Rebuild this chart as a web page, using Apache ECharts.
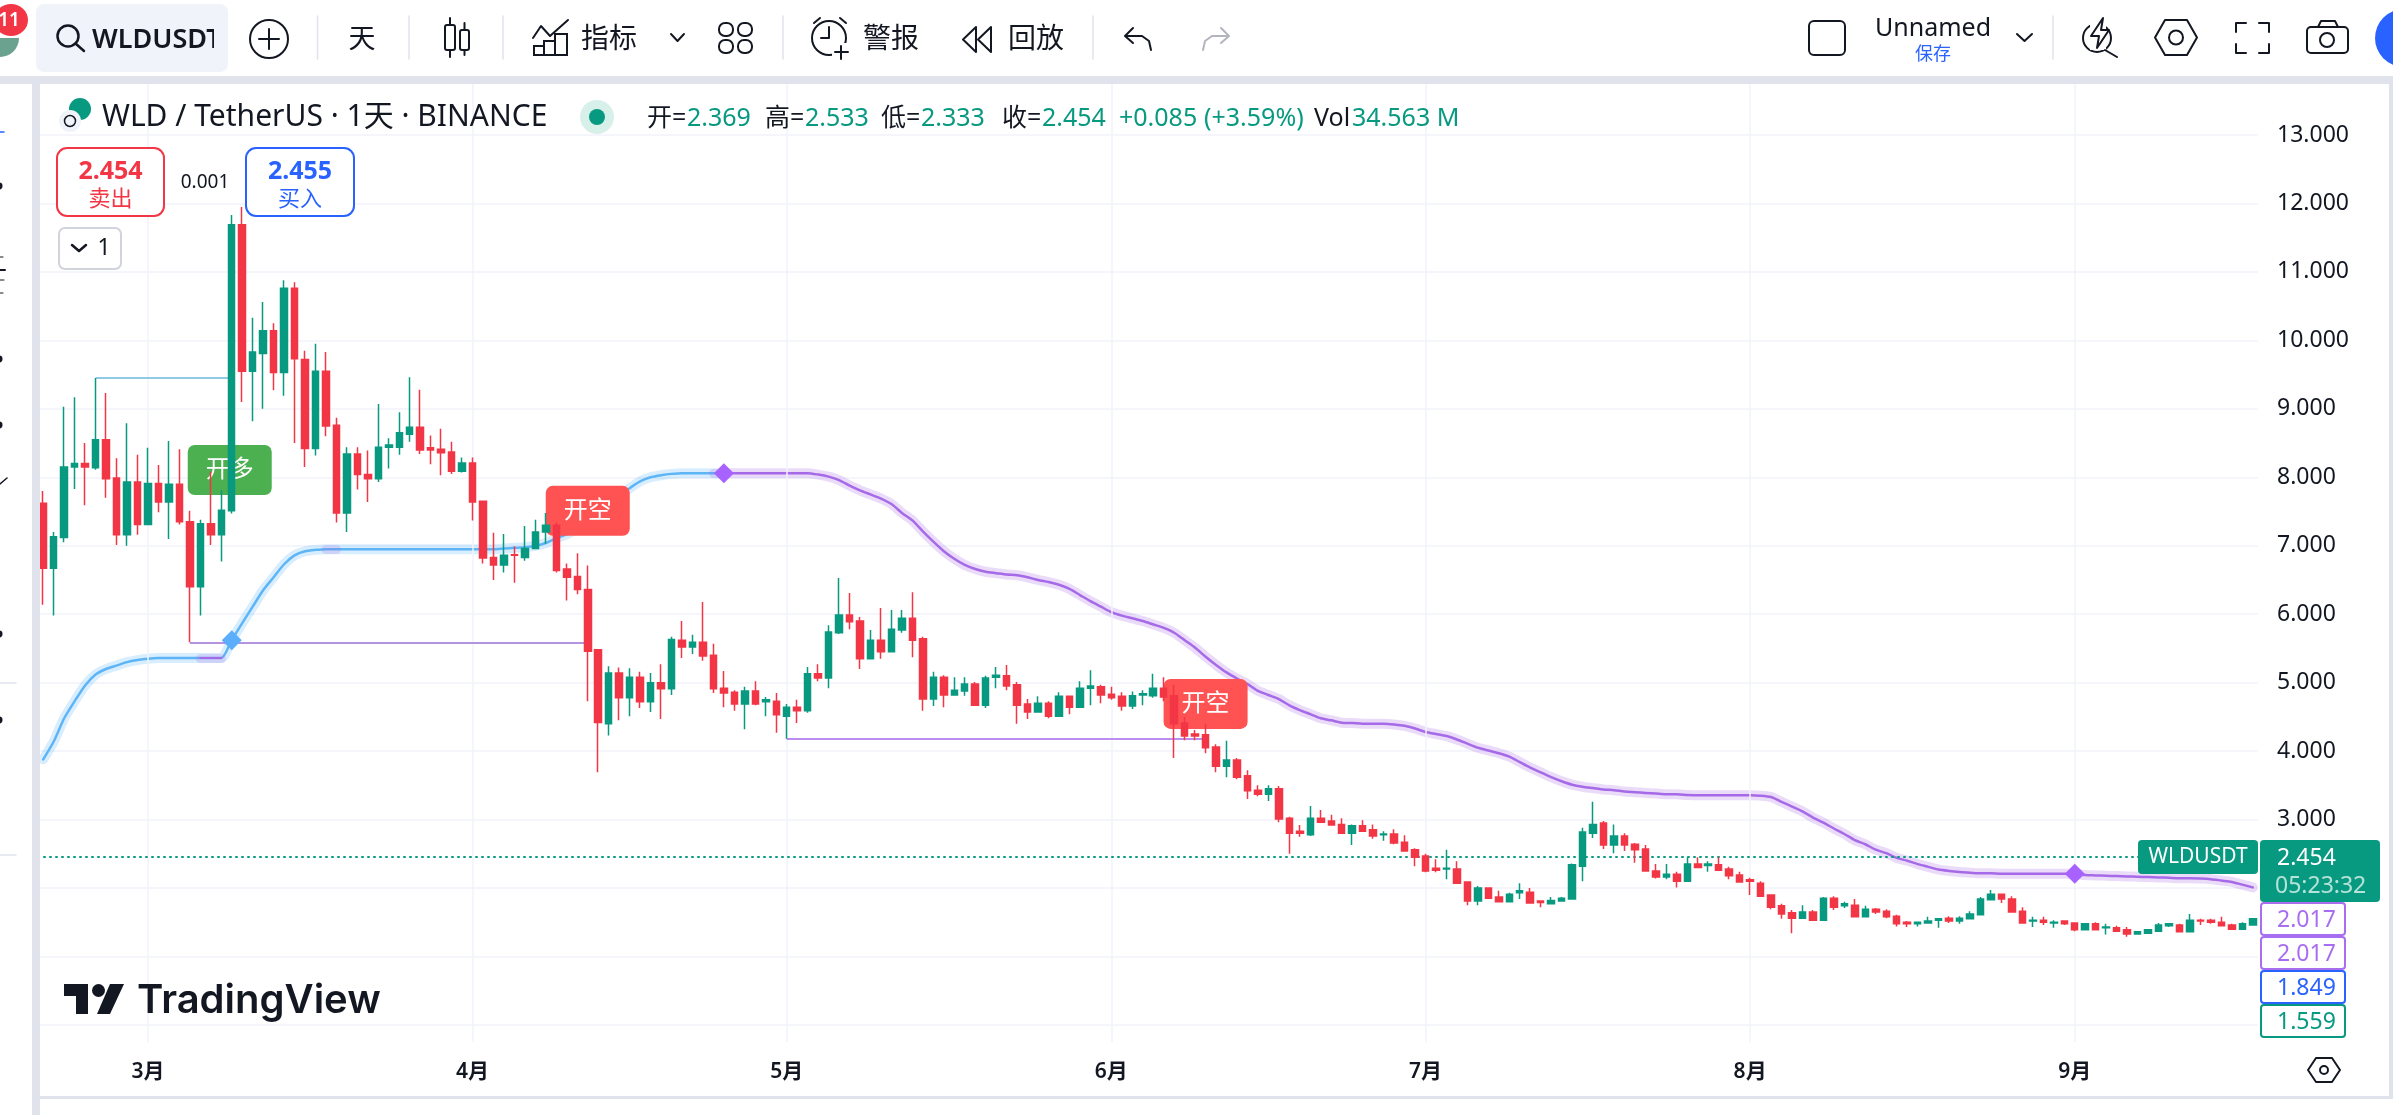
<!DOCTYPE html>
<html><head><meta charset="utf-8">
<style>html,body{margin:0;padding:0;background:#fff}#c{width:2393px;height:1115px}</style>
<script src="https://cdn.jsdelivr.net/npm/echarts@6/dist/echarts.min.js"></script>
</head><body><div id="c"></div>
<script>
// ---------- data ----------
const firstDay = Date.UTC(2024, 1, 20);
const dayCount = 212;
const priceTicks = [3,4,5,6,7,8,9,10,11,12,13];
const opens = [
7.62,6.67,7.12,8.15,8.20,8.14,8.55,7.99,7.16,7.93,7.31,7.91,7.64,7.90,7.35,6.40,7.32,7.16,7.51,11.69,
9.55,9.81,10.14,9.53,10.76,9.72,8.42,9.55,8.76,7.48,8.34,8.04,7.98,8.44,8.44,8.63,8.73,8.43,8.41,8.37,
8.09,8.21,7.65,6.83,6.72,6.87,6.83,6.96,7.20,7.30,6.66,6.55,6.36,5.48,4.40,5.14,4.78,5.08,4.72,5.00,
4.91,5.62,5.52,5.59,5.40,4.92,4.86,4.69,4.88,4.72,4.73,4.51,4.64,4.59,5.13,5.07,5.73,5.99,5.90,5.35,
5.62,5.45,5.77,5.94,5.64,4.76,5.08,4.82,4.88,4.98,4.67,5.08,5.10,4.97,4.69,4.57,4.70,4.51,4.80,4.64,
4.92,4.94,4.83,4.80,4.66,4.82,4.81,4.92,4.81,4.41,4.25,4.24,4.06,3.78,3.87,3.64,3.43,3.37,3.45,3.02,
2.83,2.78,3.02,2.98,2.93,2.80,2.91,2.85,2.78,2.79,2.67,2.56,2.47,2.29,2.28,2.28,2.09,1.81,2.00,1.87,
1.80,1.93,1.94,1.81,1.77,1.81,1.84,2.32,2.80,2.95,2.63,2.76,2.64,2.57,2.25,2.16,2.20,2.10,2.35,2.33,
2.34,2.28,2.19,2.12,2.07,1.90,1.74,1.64,1.56,1.65,1.53,1.85,1.74,1.75,1.58,1.69,1.66,1.59,1.50,1.48,
1.49,1.53,1.56,1.52,1.55,1.61,1.83,1.91,1.84,1.66,1.52,1.53,1.49,1.52,1.49,1.39,1.48,1.42,1.42,1.39,
1.33,1.34,1.37,1.45,1.46,1.36,1.53,1.53,1.50,1.46,1.40,1.46];
const closes = [
6.67,7.13,8.15,8.20,8.15,8.55,7.98,7.16,7.93,7.31,7.91,7.64,7.90,7.35,6.40,7.32,7.16,7.52,11.69,9.55,
9.83,10.14,9.53,10.76,9.73,8.42,9.55,8.75,7.48,8.34,8.04,7.98,8.44,8.47,8.65,8.73,8.40,8.40,8.36,8.09,
8.21,7.64,6.82,6.72,6.86,6.86,6.96,7.20,7.30,6.64,6.54,6.36,5.46,4.42,5.14,4.78,5.08,4.72,5.00,4.91,
5.63,5.52,5.59,5.39,4.91,4.85,4.69,4.88,4.69,4.75,4.53,4.64,4.59,5.13,5.07,5.74,5.99,5.89,5.35,5.62,
5.45,5.78,5.94,5.62,4.76,5.08,4.82,4.89,4.98,4.67,5.07,5.11,4.95,4.67,4.57,4.70,4.51,4.80,4.64,4.92,
4.95,4.82,4.78,4.66,4.81,4.84,4.92,4.79,4.40,4.22,4.22,4.05,3.78,3.87,3.62,3.42,3.37,3.45,3.01,2.80,
2.80,3.02,2.96,2.92,2.80,2.91,2.83,2.76,2.79,2.66,2.54,2.45,2.25,2.26,2.29,2.07,1.81,2.00,1.85,1.80,
1.91,1.96,1.78,1.79,1.82,1.85,2.34,2.82,2.93,2.63,2.76,2.63,2.56,2.25,2.16,2.20,2.10,2.35,2.30,2.35,
2.26,2.18,2.09,2.10,1.88,1.72,1.62,1.56,1.65,1.53,1.85,1.72,1.77,1.58,1.69,1.65,1.58,1.48,1.48,1.50,
1.52,1.55,1.52,1.56,1.62,1.84,1.91,1.84,1.65,1.49,1.53,1.50,1.50,1.48,1.39,1.48,1.39,1.43,1.37,1.33,
1.36,1.39,1.46,1.48,1.36,1.53,1.52,1.50,1.45,1.40,1.48,1.55];
const lows = [
6.14,5.98,7.05,7.83,7.59,8.11,7.70,7.01,7.00,7.16,7.31,7.49,7.10,7.31,5.59,5.98,7.01,6.77,7.47,9.10,
8.82,9.00,9.27,9.19,8.50,8.15,8.32,8.60,7.34,7.20,7.82,7.64,7.93,8.13,8.33,8.52,8.34,8.19,8.03,8.05,
8.07,7.37,6.74,6.50,6.61,6.46,6.78,6.96,7.03,6.61,6.20,6.29,4.73,3.69,4.23,4.45,4.51,4.63,4.57,4.47,
4.82,5.36,5.42,5.32,4.85,4.64,4.59,4.32,4.67,4.51,4.27,4.18,4.41,4.56,5.02,4.92,5.71,5.78,5.20,5.35,
5.35,5.45,5.73,5.37,4.59,4.66,4.64,4.81,4.81,4.66,4.63,4.92,4.89,4.40,4.47,4.57,4.48,4.50,4.54,4.64,
4.67,4.70,4.75,4.59,4.615,4.67,4.78,4.73,3.90,4.16,4.16,3.97,3.69,3.62,3.59,3.30,3.34,3.27,2.96,2.50,
2.75,2.76,2.95,2.91,2.79,2.63,2.83,2.72,2.69,2.64,2.54,2.32,2.23,2.23,2.13,2.06,1.75,1.75,1.84,1.80,
1.80,1.84,1.77,1.72,1.77,1.80,1.84,2.10,2.73,2.57,2.51,2.54,2.37,2.25,2.14,2.13,2.01,2.10,2.29,2.24,
2.25,2.13,2.09,1.90,1.87,1.69,1.55,1.34,1.56,1.52,1.52,1.68,1.71,1.58,1.58,1.62,1.56,1.44,1.43,1.44,
1.48,1.42,1.49,1.48,1.55,1.61,1.83,1.78,1.64,1.48,1.43,1.46,1.42,1.46,1.37,1.39,1.39,1.32,1.36,1.29,
1.32,1.33,1.37,1.43,1.36,1.36,1.46,1.48,1.45,1.39,1.39,1.45];
const highs = [
7.80,7.20,9.03,9.17,8.50,9.45,9.23,8.28,8.79,8.33,8.43,8.18,8.53,8.41,7.51,7.38,8.08,7.81,11.83,11.95,
10.33,10.56,10.25,10.88,10.85,9.85,9.95,9.83,8.87,8.44,8.44,8.39,9.07,8.57,8.95,9.46,9.28,8.61,8.71,8.52,
8.29,8.29,7.66,7.19,7.17,6.99,7.29,7.38,7.48,7.34,6.74,6.89,6.71,5.49,5.24,5.22,5.21,5.16,5.14,5.27,
5.67,5.90,5.70,6.18,5.57,5.17,4.89,4.94,5.02,4.79,4.85,4.69,4.75,5.23,5.27,5.84,6.53,6.31,5.96,5.77,
6.09,6.06,6.06,6.32,5.67,5.16,5.11,5.08,5.08,5.01,5.10,5.23,5.26,5.01,4.76,4.80,4.73,4.86,4.80,5.02,
5.18,4.97,4.94,4.86,4.87,4.89,5.13,5.08,4.97,4.50,4.31,4.40,4.10,4.15,3.90,3.72,3.50,3.50,3.49,3.04,
2.92,3.20,3.14,3.07,3.02,2.93,2.99,2.93,2.83,2.86,2.77,2.58,2.50,2.42,2.56,2.39,2.09,2.03,2.00,1.96,
1.93,2.07,2.00,1.82,1.87,1.87,2.36,2.88,3.26,2.98,2.93,2.80,2.66,2.63,2.35,2.35,2.24,2.45,2.45,2.39,
2.45,2.31,2.24,2.15,2.10,1.91,1.77,1.68,1.75,1.68,1.87,1.88,1.80,1.84,1.74,1.71,1.69,1.61,1.52,1.50,
1.58,1.55,1.59,1.59,1.66,1.87,1.97,1.91,1.88,1.72,1.58,1.58,1.53,1.53,1.50,1.49,1.50,1.48,1.45,1.43,
1.37,1.40,1.49,1.48,1.48,1.62,1.55,1.55,1.58,1.48,1.50,1.56];
const bluePath = [
3.88,4.14,4.48,4.73,4.96,5.12,5.20,5.25,5.30,5.33,5.35,5.36,5.36,5.36,5.36,5.36,5.36,5.36,5.62,5.87,
6.11,6.35,6.54,6.73,6.86,6.92,6.94,6.95,6.95,6.95,6.95,6.95,6.95,6.95,6.95,6.95,6.95,6.95,6.95,6.95,
6.95,6.95,6.95,6.95,6.96,6.97,6.98,7.00,7.04,7.11,7.17,7.25,7.35,7.47,7.60,7.72,7.84,7.94,8.00,8.03,
8.05,8.06,8.06,8.06,8.06,8.06];
const purpleStart = 65;
const purplePath = [
8.06,8.06,8.06,8.06,8.06,8.06,8.06,8.06,8.06,8.04,8.01,7.96,7.88,7.81,7.75,7.69,7.61,7.48,7.37,7.21,
7.06,6.92,6.81,6.72,6.66,6.62,6.60,6.58,6.57,6.54,6.50,6.47,6.43,6.37,6.28,6.19,6.11,6.03,5.98,5.94,
5.90,5.85,5.80,5.73,5.62,5.51,5.38,5.26,5.15,5.06,4.98,4.88,4.82,4.76,4.67,4.60,4.54,4.48,4.45,4.415,
4.41,4.40,4.40,4.40,4.39,4.37,4.33,4.28,4.25,4.22,4.17,4.11,4.05,4.01,3.97,3.92,3.84,3.76,3.69,3.62,
3.56,3.51,3.48,3.46,3.44,3.43,3.41,3.40,3.39,3.38,3.37,3.37,3.36,3.355,3.355,3.355,3.355,3.355,3.355,3.35,
3.33,3.26,3.19,3.12,3.03,2.955,2.87,2.79,2.70,2.64,2.56,2.51,2.44,2.40,2.35,2.31,2.27,2.25,2.235,2.225,
2.215,2.215,2.21,2.21,2.21,2.21,2.21,2.21,2.21,2.21,2.19,2.185,2.18,2.175,2.17,2.165,2.16,2.155,2.15,2.145,
2.145,2.14,2.13,2.11,2.09,2.05,2.01];
const lastPrice = 2.454;
const levelTeal = [5, 18, 9.45];
const levelPurple1 = [14, 52, 5.59];
const levelPurple2 = [71, 111, 4.18];
const pauseDots = [[15, 17, 5.36], [27, 28, 6.95], [64, 65, 8.06]];
const blueDiamond = [[18, 5.62]];
const purpleDiamonds = [[65, 8.06], [194, 2.21]];
const signalLong = [[18, 8.107, '开多']];
const signalShort = [[52, 7.51, '开空'], [111, 4.69, '开空']];
const monthNames = {2:'3月',3:'4月',4:'5月',5:'6月',6:'7月',7:'8月',8:'9月'};

// ---------- chart ----------
const UP = '#089981', DOWN = '#f23645', INK = '#131722', GRID = '#f0f3fa', BAND = '#e0e3eb';
const BLUE = '#5db5f6', PURPLE = '#a66ae8', FONT = '"Noto Sans","Noto Sans CJK SC",sans-serif';
const days = Array.from({length: dayCount}, (_, i) => new Date(firstDay + i * 86400000));
const categories = days.map(d => d.toISOString().slice(0, 10));
const monthStarts = days.map((d, i) => d.getUTCDate() === 1 ? i : -1).filter(i => i >= 0);
const candle = opens.map((o, i) => [o, closes[i], lows[i], highs[i]]);
const pad = (start, arr) => { const out = new Array(dayCount).fill(null); arr.forEach((v, i) => out[start + i] = v); return out; };
const seg = (s, col, w, extra) => [{coord: [s[0], s[2]], lineStyle: Object.assign({color: col, width: w, type: 'solid'}, extra || {})}, {coord: [s[1], s[2]]}];
const mlBase = {silent: true, symbol: 'none', label: {show: false}, animation: false, emphasis: {disabled: true}};
const rr = 'path://M7 0H77A7 7 0 0 1 84 7V43A7 7 0 0 1 77 50H7A7 7 0 0 1 0 43V7A7 7 0 0 1 7 0Z';
const lineS = (name, data, col, w, z) => ({name, type: 'line', data, symbol: 'none', showSymbol: false, smooth: 0.25, z, silent: true,
  lineStyle: {color: col, width: w, cap: 'round', join: 'round'}, itemStyle: {color: col}, emphasis: {disabled: true}});

const G = [];
const base = {silent: true, z: 100};
const strokeOf = (s) => s === undefined ? INK : s;
const T = (text, x, y, size, fill, align, weight, family) => G.push(Object.assign({}, base, {type: 'text', x, y: y + 1.5, z: 102, style: {text, fill,
  font: (weight || 400) + ' ' + size + 'px ' + (family || FONT), textAlign: align || 'left', textVerticalAlign: 'middle', align: align || 'left', verticalAlign: 'middle'}}));
const R = (x, y, width, height, r, stroke, fill, lw) => G.push(Object.assign({}, base, {type: 'rect', shape: {x, y, width, height, r: r || 0},
  style: {fill: fill || 'transparent', stroke: strokeOf(stroke), lineWidth: lw || 2}}));
const C = (cx, cy, r, stroke, fill, lw) => G.push(Object.assign({}, base, {type: 'circle', shape: {cx, cy, r},
  style: {fill: fill || 'transparent', stroke: strokeOf(stroke), lineWidth: lw || 2}}));
const L = (points, stroke, lw) => G.push(Object.assign({}, base, {type: 'polyline', shape: {points},
  style: {fill: null, stroke: stroke || INK, lineWidth: lw || 2, lineJoin: 'round', lineCap: 'round'}}));
const PG = (points, stroke, fill, lw) => G.push(Object.assign({}, base, {type: 'polygon', shape: {points},
  style: {fill: fill || 'transparent', stroke: strokeOf(stroke), lineWidth: lw || 2, lineJoin: 'round'}}));

// frame bands
R(0, 76, 2393, 8, 0, null, BAND);
R(32, 76, 8, 1039, 0, null, BAND);
R(2389, 84, 4, 1014, 0, null, BAND);
R(40, 1096, 2353, 3, 0, null, BAND);

// left toolbar remnants
L([[0,132],[4,132]], '#2962ff', 1.5);
[186,359,425,720,634].forEach(y => C(-1, y, 3.5, null, INK));
L([[0,257],[3,257]], INK, 1); L([[0,270],[5,270]], INK, 2); L([[0,280],[4,280]], INK, 1); L([[0,293],[3,293]], INK, 1);
L([[0,484],[7,478]], INK, 1.5);
L([[0,683],[16,683]], BAND, 1.5); L([[0,855],[16,855]], BAND, 1.5);
G.push(Object.assign({}, base, {type: 'sector', shape: {cx: 0, cy: 38, r: 19, r0: 0, startAngle: 0, endAngle: Math.PI / 2}, style: {fill: '#6aa28f'}}));
G.push(Object.assign({}, base, {type: 'ellipse', shape: {cx: 11, cy: 20, rx: 17, ry: 16}, style: {fill: DOWN}}));
T('11', 9, 19, 19, '#fff', 'center', 600);

// top toolbar
R(36, 4, 192, 68, 8, null, GRID);
C(68, 36, 10.5, INK, null, 2.5); L([[75.5,43.5],[84,51]], INK, 2.5);
T('WLDUSDT', 92, 39, 27, INK, 'left', 600);
R(214, 20, 14, 40, 0, null, GRID);
G[G.length - 1].z = 103;
C(269, 39, 19); L([[269,29],[269,49]]); L([[259,39],[279,39]]);
[317.5, 409, 503, 783, 1093, 2053].forEach(x => L([[x,16],[x,59]], BAND, 1.5));
T('天', 362, 39, 27, INK, 'center');
R(445, 25, 10, 25, 2); L([[450,18],[450,25]]); L([[450,50],[450,57]]);
R(460, 30, 9, 20, 2); L([[464.5,23],[464.5,30]]); L([[464.5,50],[464.5,55]]);
L([[533,38],[541,26],[550,36],[568,20]]);
R(534, 46, 10, 9); R(544, 41, 11, 14); R(555, 34, 12, 21);
T('指标', 581, 39, 28, INK);
L([[671,34],[677.5,41],[684,34]]);
[[719,23],[738,23],[719,40],[738,40]].forEach(p => R(p[0], p[1], 14, 13, 6));
C(829, 38, 17); L([[829,27],[829,38],[821,38]]);
R(832, 43, 18, 18, 0, null, '#fff'); L([[841,46],[841,59]]); L([[835,52],[848,52]]);
L([[814,23],[820,18]]); L([[840,18],[846,23]]);
T('警报', 863, 39, 28, INK);
PG([[976,27],[963,39.5],[976,52]], INK); PG([[991,27],[978,39.5],[991,52]], INK);
T('回放', 1008, 39, 28, INK);
L([[1133,28],[1125,36],[1133,43]]); L([[1126,36],[1142,36],[1149,41],[1151,50]]);
L([[1221,28],[1229,36],[1221,43]], '#b2b5be'); L([[1228,36],[1212,36],[1205,41],[1203,50]], '#b2b5be');
R(1809, 21, 36, 34, 5);
T('Unnamed', 1933, 27, 25, INK, 'center');
T('保存', 1933, 53, 18, '#2962ff', 'center');
L([[2017,34],[2024.5,41],[2032,34]]);
C(2097, 38, 14); R(2090, 14, 16, 36, 0, null, '#fff');
PG([[2103,18],[2091,36],[2099,36],[2097,48],[2109,30],[2101,30]], INK);
L([[2105,50],[2117,57]]);
PG([[2165,20],[2187,20],[2197,37.5],[2187,55],[2165,55],[2155,37.5]], INK); C(2176, 37.5, 7);
L([[2236,32],[2236,23],[2246,23]]); L([[2259,23],[2269,23],[2269,32]]); L([[2236,44],[2236,53],[2246,53]]); L([[2259,53],[2269,53],[2269,44]]);
R(2307, 27, 41, 26, 4); L([[2318,27],[2321,21],[2335,21],[2338,27]]); C(2327, 40, 7);
C(2404, 38, 29, null, '#2962ff');

// legend row
C(80, 109, 11, null, UP); C(70, 121, 11, null, '#f0f3fa'); C(70, 121, 5.5, INK, null, 1.5);
T('WLD / TetherUS · 1天 · BINANCE', 102, 116, 30, INK);
C(597, 117, 17, null, '#d7f0ea'); C(597, 117, 8, null, UP);
[['开=',647,INK],['2.369',687,UP],['高=',765,INK],['2.533',805,UP],['低=',881,INK],['2.333',921,UP],['收=',1002,INK],['2.454',1042,UP],
 ['+0.085',1119,UP],['(+3.59%)',1204,UP],['Vol',1314,INK],['34.563 M',1352,UP]].forEach(t => T(t[0], t[1], 117, 25, t[2]));

// order ticket
R(57, 148, 107, 68, 10, DOWN, '#fff', 2);
T('2.454', 110.5, 170, 25, DOWN, 'center', 700); T('卖出', 110.5, 198, 22, DOWN, 'center');
T('0.001', 205, 181, 19, INK, 'center');
R(246, 148, 108, 68, 10, '#2962ff', '#fff', 2);
T('2.455', 300, 170, 25, '#2962ff', 'center', 700); T('买入', 300, 198, 22, '#2962ff', 'center');
R(59, 228, 62, 41, 6, '#d1d4dc', '#fff', 2);
L([[72,245],[79,251],[86,245]], INK, 2.5);
T('1', 104, 247, 23, INK, 'center');

// watermark
PG([[64,984],[88,984],[88,1014],[76,1014],[76,996],[64,996]], null, INK);
C(98.5, 990.5, 6.5, null, INK);
PG([[110,984],[124,984],[110,1014],[97,1014]], null, INK);
T('TradingView', 137, 999, 40, INK, 'left', 600, 'Inter, "Noto Sans"');

// price tags
R(2138, 840, 120, 34, 4, null, UP);
T('WLDUSDT', 2198, 856, 21, '#fff', 'center');
R(2260, 840, 120, 62, 4, null, UP);
T('2.454', 2277, 857, 23, '#fff');
T('05:23:32', 2275, 885, 23, '#b5e3d8');
[['2.017',903,'#a86ef0'],['2.017',937,'#a86ef0'],['1.849',971,'#2962ff'],['1.559',1005,UP]].forEach(t => {
  R(2261, t[1], 84, 32, 3, t[2], '#fff', 2);
  T(t[0], 2277, t[1] + 16, 23, t[2]);
});
// time-axis settings icon
PG([[2316,1058],[2332,1058],[2340,1070],[2332,1082],[2316,1082],[2308,1070]], INK); C(2324, 1070, 4);

const chart = echarts.init(document.getElementById('c'));
chart.setOption({
  animation: false,
  backgroundColor: '#fff',
  grid: {left: 38, width: 2220, top: 66.54, height: 1026.9, containLabel: false},
  xAxis: {type: 'category', data: categories, boundaryGap: true,
    axisLine: {show: false}, axisTick: {show: false}, splitLine: {show: false},
    axisLabel: {inside: true, margin: 11, interval: (i) => monthStarts.includes(i), hideOverlap: false,
      formatter: (v) => monthNames[new Date(v + 'T00:00:00Z').getUTCMonth()] || '',
      color: INK, fontFamily: FONT, fontSize: 21, fontWeight: 600}},
  yAxis: {type: 'value', position: 'right', min: -1, max: 14, interval: 1, scale: false,
    axisLine: {show: false}, axisTick: {show: false},
    splitLine: {show: true, showMinLine: false, showMaxLine: false, lineStyle: {color: GRID, width: 1.5}},
    axisLabel: {margin: 19, color: INK, fontFamily: FONT, fontSize: 23,
      formatter: (v) => priceTicks.includes(v) ? v.toFixed(3) : ''}},
  graphic: {elements: G},
  series: [
    {name: 'monthLines', type: 'line', data: [], z: 1, silent: true,
      markLine: Object.assign({}, mlBase, {data: monthStarts.map(i => [
        {coord: [i, -0.25], lineStyle: {color: GRID, width: 1.5, type: 'solid'}}, {coord: [i, 13.745]}])})},
    lineS('blueGlow', pad(0, bluePath), 'rgba(93,181,246,0.24)', 10, 3),
    lineS('blueLine', pad(0, bluePath), BLUE, 2.5, 3),
    lineS('purpleGlow', pad(purpleStart, purplePath), 'rgba(166,106,232,0.24)', 10, 3),
    lineS('purpleLine', pad(purpleStart, purplePath), PURPLE, 2.5, 3),
    {name: 'levels', type: 'line', data: [], z: 3, silent: true,
      markLine: Object.assign({}, mlBase, {data: [
        seg(levelTeal, '#8fcbe6', 2),
        seg(levelPurple1, '#b493e0', 2),
        seg(levelPurple2, '#bb8df0', 2),
        seg(pauseDots[0], PURPLE, 2.2, {cap: 'round'})
      ].concat(pauseDots.map(s => seg(s, 'rgba(166,106,232,0.2)', 9, {cap: 'round'})))})},
    {name: 'signals', type: 'scatter', z: 4, silent: true, symbol: rr, symbolSize: [84, 50],
      data: signalLong.map(s => ({value: [s[0], s[1]], name: s[2], symbolOffset: [-2, 0], itemStyle: {color: '#4caf50', opacity: 1}}))
        .concat(signalShort.map(s => ({value: [s[0], s[1]], name: s[2], itemStyle: {color: '#ff5252', opacity: 1}}))),
      label: {show: true, position: 'inside', formatter: (p) => p.name, color: '#fff', fontSize: 24, fontFamily: FONT}},
    {name: 'WLDUSDT', type: 'candlestick', data: candle, z: 5, silent: true, barWidth: 7,
      itemStyle: {color: UP, color0: DOWN, borderColor: UP, borderColor0: DOWN, borderWidth: 1.5},
      markLine: Object.assign({}, mlBase, {data: [[
        {coord: [0, lastPrice], lineStyle: {color: UP, width: 2, type: [2.5, 3.5]}}, {coord: [dayCount - 1, lastPrice]}]]})},
    {name: 'flipBlue', type: 'scatter', z: 6, silent: true, symbol: 'diamond', symbolSize: 20, data: blueDiamond, itemStyle: {color: '#5aaefc', opacity: 1}},
    {name: 'flipPurple', type: 'scatter', z: 6, silent: true, symbol: 'diamond', symbolSize: 20, data: purpleDiamonds, itemStyle: {color: '#a862ff', opacity: 1}}
  ]
});
</script></body></html>
